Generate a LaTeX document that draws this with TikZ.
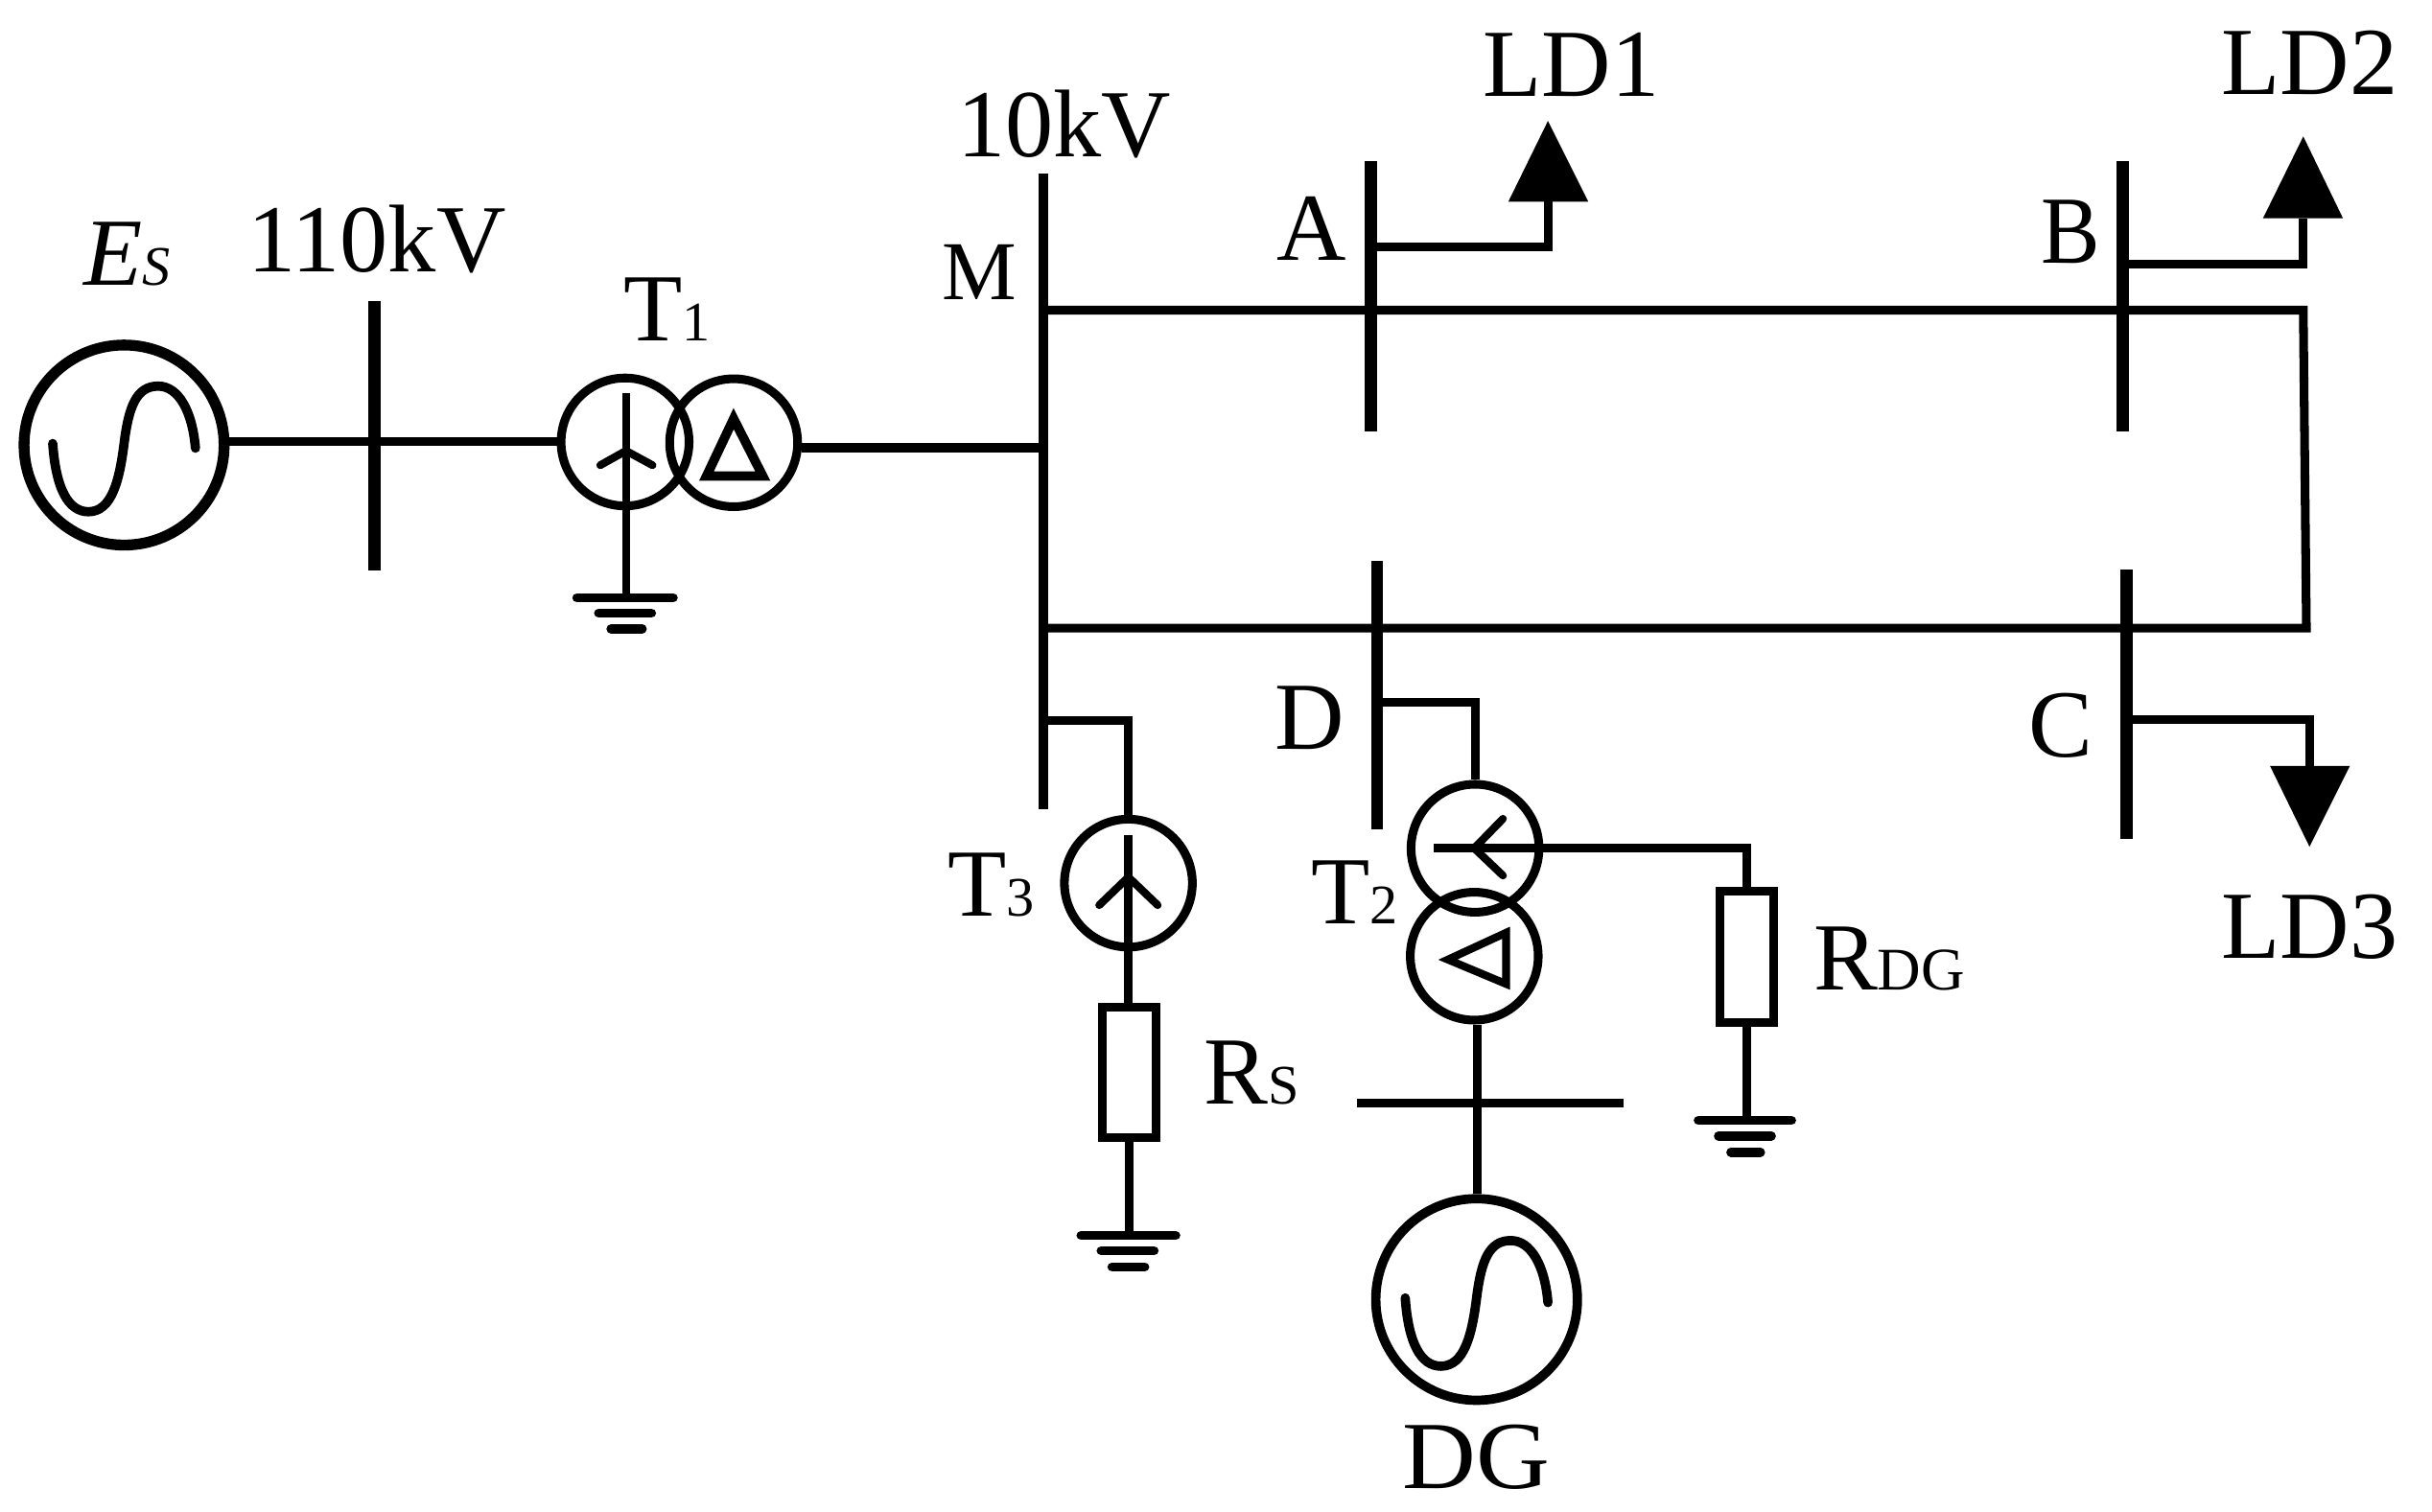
\documentclass[tikz,border=0pt]{standalone}
\usepackage{fontspec}
\setmainfont{Liberation Serif}
\newcommand{\bigf}{\fontsize{62}{62}\selectfont}
\newcommand{\smf}[1]{{\fontsize{36}{36}\selectfont #1}}
\newcommand{\wdr}[2]{\scalebox{#1}[1]{#2}}
\tikzset{
  wire/.style={line width=5.6pt,line join=miter},
  thin wire/.style={line width=5pt,line join=miter},
  bus/.style={fill=black,rectangle,inner sep=0pt,outer sep=0pt,minimum width=#1},
  bus/.default=8pt,
  wind/.style={circle,draw=black,line width=5.6pt,inner sep=0pt,minimum size=82.5pt},
  gen/.style={circle,draw=black,line width=6pt,inner sep=0pt,minimum size=130pt},
  res/.style={rectangle,draw=black,line width=5.6pt,inner sep=0pt,minimum width=34.5pt,minimum height=84.5pt},
  lab/.style={anchor=base west,inner sep=0pt,font=\bigf},
  earth/.style={line width=6pt,line cap=round},
  load/.style={fill=black},
  sine/.style={line width=6pt,line cap=round},
  sinecurve/.pic={
    \draw[sine] (-46,-1) .. controls (-44,28) and (-36,43) .. (-23,43)
      .. controls (-8,43) and (-3,23) .. (0,-1)
      .. controls (3,-25) and (8,-38) .. (22,-38)
      .. controls (35,-38) and (44,-22) .. (46,2);
  }
}
\begin{document}
\begin{tikzpicture}[x=1pt,y=-1pt]
\useasboundingbox (0,0) rectangle (1568,975);
% buses
\node[bus,minimum height=174pt] (b110) at (241.3,281) {};
\node[bus=6.4pt,minimum height=410pt] (busM) at (672.5,317) {};
\node[bus,minimum height=174pt] (busA) at (884,191) {};
\node[bus,minimum height=174pt] (busB) at (1368.7,191) {};
\node[bus=7.4pt,minimum height=173pt] (busD) at (888,448.5) {};
\node[bus,minimum height=174pt] (busC) at (1371,454) {};
\node[bus=172.4pt,minimum height=6pt] (busG) at (960.8,711.4) {};
% machines
\node[gen,line width=7pt,minimum size=129pt] (Es) at (80,287) {};
\node[gen] (DG) at (952,838) {};
\pic at (80,287) {sinecurve};
\pic at (952,838) {sinecurve};
\node[wind] (T1a) at (403,285) {};
\node[wind] (T1b) at (473,285.5) {};
\node[wind] (T3) at (727.5,569.5) {};
\node[wind] (T2a) at (951,547) {};
\node[wind] (T2b) at (950.5,616.6) {};
\node[res] (Rs) at (728,691.5) {};
\node[res] (Rdg) at (1126,617) {};
% source side
\draw[wire] (Es.east |- 0,285) -- (T1a.west |- 0,285);
\draw[line width=6.2pt] (T1b.east |- 0,289) -- (busM.west |- 0,289);
% T1 windings
\coordinate (g1) at (403.6,385.5);
\coordinate (j1) at (403.6,290.7);
\draw[thin wire] (403.6,253.6) -- (g1);
\draw[thin wire,line cap=round] (387,300) -- (j1) -- (420.7,300);
\draw[line width=6pt,line join=miter] (473,270) -- (455.5,307) -- (491.8,307) -- cycle;
\draw[earth] (372,385.5) -- (434,385.5) (386,395.4) -- (420,395.4) (394,405.5) -- (414,405.5);
% ring
\coordinate (tr) at (1485,200);
\coordinate (br) at (1487,405);
\draw[wire] (tr -| busM) -- (tr) -- (br) -- (br -| busM);
% loads
\coordinate (la) at (998,159);
\coordinate (lb) at (1485,170.6);
\coordinate (lc) at (1489,464);
\coordinate (ta) at (998,130);
\coordinate (tb) at (1485,140.8);
\coordinate (tc) at (1489,494);
\draw[wire] (la -| busA) -- (la) -- (ta);
\draw[wire] (lb -| busB) -- (lb) -- (tb);
\draw[wire] (lc -| busC) -- (lc) -- (tc);
\fill[load] (972.5,130) -- (1024,130) -- (998,78) -- cycle;
\fill[load] (1459,140.8) -- (1510.6,140.8) -- (1485,88) -- cycle;
\fill[load] (1463.6,494) -- (1515,494) -- (1489,546) -- cycle;
% T3 branch
\coordinate (k3) at (727.5,464.6);
\draw[wire] (k3 -| busM) -- (k3) -- (T3.north);
\draw[wire] (727.5,538.6) -- (Rs.north -| 727.5,0);
\draw[thin wire,line cap=round] (708.7,583.7) -- (727.5,565.6) -- (746.4,583.7);
\coordinate (g3) at (728,796.7);
\draw[wire] (Rs.south) -- (g3);
\draw[earth] (697,796.7) -- (758,796.7) (710,806.6) -- (744,806.6) (717,817) -- (738,817);
% T2 branch
\coordinate (k2) at (951,452.7);
\draw[wire] (k2 -| busD) -- (k2) -- (T2a.north);
\coordinate (k4) at (1126,547);
\draw[wire] (924.4,547) -- (k4) -- (Rdg.north);
\draw[thin wire,line cap=round] (969,528) -- (950.5,547) -- (969,564.6);
\draw[line width=5pt,line join=miter] (971,601.5) -- (933.5,618.8) -- (971,634.5) -- cycle;
\draw[wire] (T2b.south -| 952.5,0) -- (DG.north -| 952.5,0);
\coordinate (g2) at (1126,722.5);
\draw[wire] (Rdg.south) -- (g2);
\draw[earth] (1095,722.5) -- (1155,722.5) (1108,732.5) -- (1142,732.5) (1116,743) -- (1135,743);
% labels
\node[lab,font=\bigf\itshape] (lE) at (54,184) {E\smf{S}};
\node[lab] (l110) at (159.5,175) {110kV};
\node[lab] (lT1) at (402,220) {T\smf{1}};
\node[lab] (l10) at (617,101) {10kV};
\node[lab,font=\fontsize{54}{54}\selectfont] (lM) at (607,193) {M};
\node[lab] (lA) at (823,168) {A};
\node[lab] (lLD1) at (956,62) {LD1};
\node[lab] (lB) at (1316,170) {\wdr{0.92}{B}};
\node[lab] (lLD2) at (1432,61) {LD2};
\node[lab] (lC) at (1308,488) {C};
\node[lab] (lLD3) at (1432,618) {LD3};
\node[lab] (lD) at (822,483) {D};
\node[lab] (lT3) at (611,590.7) {T\smf{3}};
\node[lab] (lT2) at (845,595.6) {T\smf{2}};
\node[lab] (lRs) at (776,712) {R\smf{S}};
\node[lab] (lRdg) at (1169,638.6) {R{\fontsize{39}{39}\selectfont DG}};
\node[lab] (lDG) at (904,960) {\wdr{1.06}{DG}};
\end{tikzpicture}
\end{document}
